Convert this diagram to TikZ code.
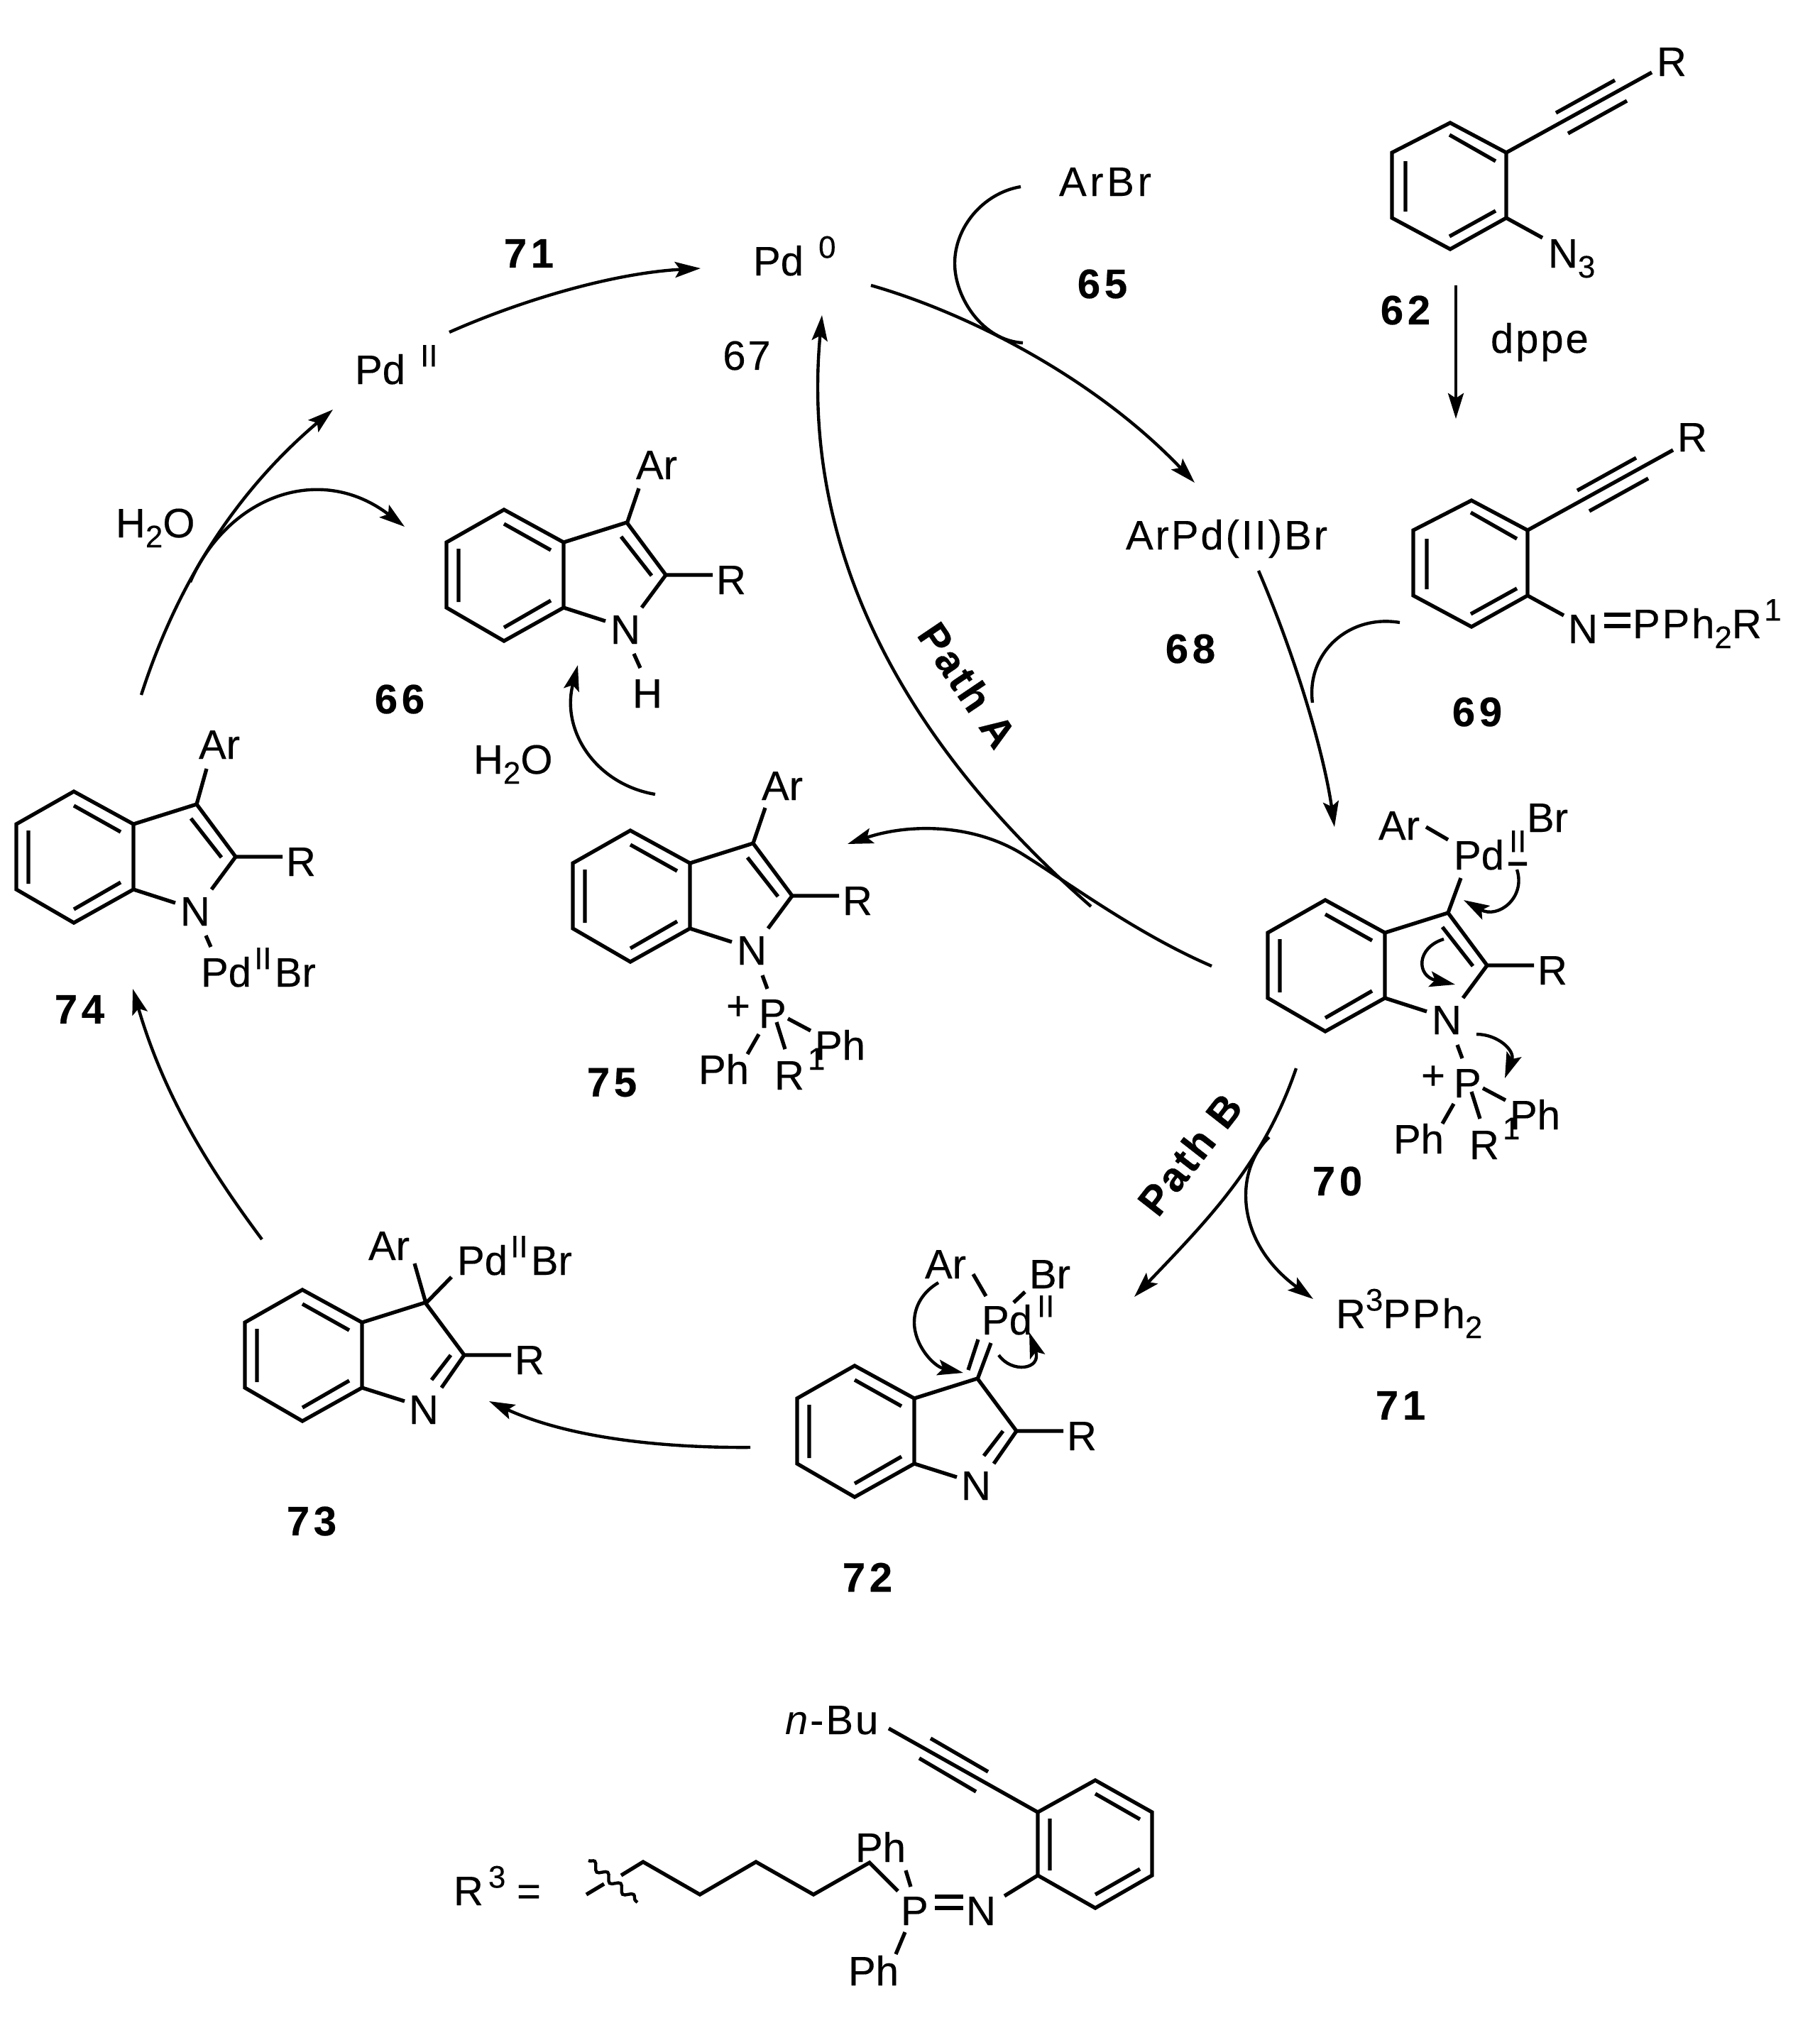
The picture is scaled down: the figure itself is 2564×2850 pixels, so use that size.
\documentclass[tikz,border=0pt]{standalone}
\usepackage{fontspec}
\setmainfont{Liberation Sans}[UprightFeatures={FakeBold=0.25},BoldFeatures={FakeBold=0.4}]
\usetikzlibrary{arrows.meta,decorations.pathmorphing}
\newcommand{\chemfont}{\fontsize{16.5}{18}\selectfont}
\newcommand{\wideon}{\addfontfeature{LetterSpace=5}}
\newcommand{\sps}[1]{\raisebox{7pt}{\fontsize{12.5}{12.5}\selectfont #1}}
\newcommand{\sbs}[1]{\raisebox{-4pt}{\fontsize{12.5}{12.5}\selectfont #1}}
\tikzset{
  bond/.style={line width=1.5pt,line join=miter},
  thin curve/.style={line width=1.25pt},
  arr/.style={line width=1.25pt,-{Stealth[length=.36cm,width=.22cm,inset=.07cm]}},
  txt/.style={inner sep=0pt,outer sep=0pt,anchor=base west,font=\chemfont},
  wtxt/.style={txt,font=\chemfont\wideon},
  lab/.style={inner sep=0pt,outer sep=0pt,anchor=center,font=\chemfont\bfseries\addfontfeature{LetterSpace=10}},
  plain lab/.style={inner sep=0pt,outer sep=0pt,anchor=center,font=\chemfont\wideon},
  pathlab/.style={inner sep=0pt,outer sep=0pt,anchor=center,font=\chemfont\bfseries\addfontfeature{LetterSpace=6}}
}
% benzo ring with C3 and the two bonds to N; origin = C3a
\newcommand{\benzo}[1]{%
  \coordinate (#1a) at (0,0); \coordinate (#1b) at (0,92);
  \coordinate (#1c) at (-84,139); \coordinate (#1d) at (-165,92);
  \coordinate (#1e) at (-165,0); \coordinate (#1f) at (-84,-46);
  \coordinate (#1g) at (89,-28); \coordinate (#1h) at (144,46);
  \draw[bond] (#1a)--(#1b)--(#1c)--(#1d)--(#1e)--(#1f)--cycle;
  \draw[bond] (-84,-26)--(-18,11) (-84,120)--(-18,82) (-148,9)--(-148,84);
  \draw[bond] (#1a)--(#1g)--(#1h)--(210,46);
  \node[txt] (#1R) at (215,73) {R};
  \node[txt] (#1N) at (66,143) {N};
}
\newcommand{\indoleA}[3]{\begin{scope}[shift={(#2,#3)}]
  \benzo{#1}
  \draw[bond] (#1b)--(59,111) (#1h)--(110,92) (81,-8)--(124,47);
\end{scope}}
\newcommand{\indoleB}[3]{\begin{scope}[shift={(#2,#3)}]
  \benzo{#1}
  \draw[bond] (#1b)--(60,111) (#1h)--(112,92) (98,81)--(125,46);
\end{scope}}
\newcommand{\phos}[3]{\begin{scope}[shift={(#2,#3)}]
  \draw[bond] (102,158)--(109,177) (97,241)--(81,269) (122,224)--(134,262) (138,219)--(170,236);
  \node[txt] (#1P) at (97,232) {P};
  \node[txt,anchor=center] (#1plus) at (68,204) {+};
  \node[txt] (#1Pha) at (12,311) {Ph};
  \node[txt] (#1Rb) at (119,319) {R};
  \node[txt] (#1one) at (166,291) {\fontsize{12.5}{12.5}\selectfont 1};
  \node[txt] (#1Phb) at (176,277) {Ph};
\end{scope}}
\begin{document}
\begin{tikzpicture}[x=0.01cm,y=-0.01cm]
\useasboundingbox (0,0) rectangle (2564,2850);
\fill[white] (0,0) rectangle (2564,2850);

%% indoles
\indoleA{u}{794}{764}   % 66
\indoleA{v}{188}{1161}  % 74
\indoleA{w}{972}{1216}  % 75
\indoleA{x}{1951}{1314} % 70
\indoleB{y}{1288}{1970} % 72
\indoleB{z}{510}{1863}  % 73
\phos{w}{972}{1216}
\phos{x}{1951}{1314}

%% extra on 66
\draw[bond] (883,738)--(900,688) (893,921)--(902,941);
\node[txt] (t66Ar) at (896,675) {Ar};
\node[txt] (t66H) at (891,997) {H};
%% extra on 75
\draw[bond] (1061,1188)--(1078,1138);
\node[txt] (t75Ar) at (1073,1127) {Ar};
%% extra on 74
\draw[bond] (277,1133)--(291,1083) (290,1318)--(297,1334);
\node[txt] (t74Ar) at (280,1069) {Ar};
\node[txt] (t74Pd) at (283,1390) {Pd\kern1.2pt\sps{II}\kern1.2pt Br};
%% extra on 70
\draw[bond] (2040,1286)--(2058,1237) (2009,1165)--(2040,1183) (2125,1217)--(2151,1217);
\node[txt] (t70Ar) at (1942,1183) {Ar};
\node[txt] (t70Pd) at (2048,1225) {Pd\kern2pt\sps{II}};
\node[txt] (t70Br) at (2151,1172) {Br};
%% extra on 72
\draw[bond] (1377,1943)--(1396,1892) (1364,1930)--(1378,1887) (1371,1795)--(1389,1826) (1428,1835)--(1444,1820);
\node[txt] (t72Ar) at (1303,1801) {Ar};
\node[txt] (t72Pd) at (1383,1880) {Pd\kern2pt\sps{II}};
\node[txt] (t72Br) at (1450,1815) {Br};
%% extra on 73
\draw[bond] (600,1836)--(584,1780) (600,1836)--(636,1799);
\node[txt] (t73Ar) at (519,1775) {Ar};
\node[txt] (t73Pd) at (644,1796) {Pd\kern1.2pt\sps{II}\kern1.2pt Br};

%% 62
\draw[bond] (2122,215)--(2122,307)--(2043,351)--(1961,307)--(1961,215)--(2043,173)--cycle;
\draw[bond] (2042,190)--(2107,227) (2042,333)--(2107,297) (1980,227)--(1980,298);
\draw[bond] (2122,215)--(2327,102) (2192,159)--(2275,113) (2209,188)--(2292,142) (2122,307)--(2173,335);
\node[txt] (t62R) at (2334,107) {R};
\node[txt] (t62N) at (2181,377) {N\sbs{3}};
%% 69
\begin{scope}[shift={(30,532)}]
\draw[bond] (2122,215)--(2122,307)--(2043,351)--(1961,307)--(1961,215)--(2043,173)--cycle;
\draw[bond] (2042,190)--(2107,227) (2042,333)--(2107,297) (1980,227)--(1980,298);
\draw[bond] (2122,215)--(2327,102) (2192,159)--(2275,113) (2209,188)--(2292,142) (2122,307)--(2173,335);
\node[txt] (t69R) at (2333,104) {R};
\end{scope}
\node[txt] (t69N) at (2209,906) {N};
\draw[bond] (2260,866)--(2297,866) (2260,882)--(2297,882);
\node[wtxt] (t69P) at (2300,899) {PPh\sbs{2}R\kern1pt\sps{1}};

%% free text
\node[txt,font=\chemfont\addfontfeature{LetterSpace=8}] (tArBr) at (1492,276) {ArBr};
\node[txt] (tPd0) at (1061,388) {Pd\kern6pt\sps{0}};
\node[txt] (tPd2) at (500,541) {Pd\kern6pt\sps{II}};
\node[wtxt] (tArPd) at (1586,774) {ArPd(II)Br};
\node[wtxt] (tdppe) at (2100,497) {dppe};
\node[txt] (th2oa) at (163,757) {H\sbs{2}O};
\node[txt] (th2ob) at (667,1090) {H\sbs{2}O};
\node[wtxt] (tR3) at (1882,1871) {R\sps{3}PPh\sbs{2}};

%% compound labels
\node[lab] (l71a) at (745,357) {71};
\node[lab] (l65) at (1553,400) {65};
\node[lab] (l68) at (1677,914) {68};
\node[lab] (l62) at (1980,437) {62};
\node[lab] (l69) at (2081,1003) {69};
\node[lab] (l66) at (563,985) {66};
\node[lab] (l74) at (112,1422) {74};
\node[lab] (l75) at (862,1525) {75};
\node[lab] (l73) at (439,2143) {73};
\node[lab] (l72) at (1222,2222) {72};
\node[lab] (l70) at (1884,1664) {70};
\node[lab] (l71b) at (1973,1980) {71};
\node[plain lab] (l67) at (1052,501) {67};
\node[pathlab,rotate=-56] (lpa) at (1363,965) {Path A};
\node[pathlab,rotate=52] (lpb) at (1676,1626) {Path B};

%% arrow ends
\coordinate (a1s) at (2051,402); \coordinate (a1e) at (2051,590);
\coordinate (a2s) at (1227,402); \coordinate (a2e) at (1683,680);
\coordinate (a3s) at (1438,263); \coordinate (a3m) at (1345,371); \coordinate (a3e) at (1441,483);
\coordinate (a4s) at (1773,804); \coordinate (a4e) at (1880,1165);
\coordinate (a5s) at (1972,877); \coordinate (a5e) at (1849,990);
\coordinate (a6s) at (1707,1361); \coordinate (a6m) at (1440,1203); \coordinate (a6e) at (1194,1189);
\coordinate (a7s) at (1537,1277); \coordinate (a7e) at (1158,444);
\coordinate (a8s) at (1826,1505); \coordinate (a8e) at (1598,1827);
\coordinate (a9s) at (1788,1602); \coordinate (a9e) at (1850,1830);
\coordinate (a10s) at (1057,2039); \coordinate (a10e) at (689,1974);
\coordinate (a11s) at (369,1746); \coordinate (a11e) at (187,1393);
\coordinate (a12s) at (199,979); \coordinate (a12e) at (469,577);
\coordinate (a13s) at (268,820); \coordinate (a13e) at (570,742);
\coordinate (a14s) at (633,468); \coordinate (a14e) at (987,378);
\coordinate (a15s) at (923,1119); \coordinate (a15e) at (814,937);

\draw[arr] (a1s)--(a1e);
\draw[arr] (a2s) .. controls (1360,440) and (1540,530) .. (a2e);
\draw[thin curve] (a3s) .. controls (1385,272) and (1345,320) .. (a3m) .. controls (1345,420) and (1385,480) .. (a3e);
\draw[arr] (a4s) .. controls (1825,925) and (1865,1060) .. (a4e);
\draw[thin curve] (a5s) .. controls (1900,865) and (1840,920) .. (a5e);
\draw[thin curve] (a6s) .. controls (1600,1315) and (1500,1240) .. (a6m);
\draw[arr] (a6m) .. controls (1370,1160) and (1280,1160) .. (a6e);
\draw[arr] (a7s) .. controls (1300,1070) and (1125,800) .. (a7e);
\draw[arr] (a8s) .. controls (1780,1640) and (1700,1720) .. (a8e);
\draw[arr] (a9s) .. controls (1738,1650) and (1740,1750) .. (a9e);
\draw[arr] (a10s) .. controls (930,2040) and (800,2025) .. (a10e);
\draw[arr] (a11s) .. controls (290,1640) and (230,1540) .. (a11e);
\draw[arr] (a12s) .. controls (250,820) and (335,690) .. (a12e);
\draw[arr] (a13s) .. controls (320,700) and (450,650) .. (a13e);
\draw[arr] (a14s) .. controls (730,425) and (860,385) .. (a14e);
\draw[arr] (a15s) .. controls (840,1105) and (790,1030) .. (a15e);

%% electron-pushing arrows on 70
\coordinate (e1s) at (2137,1225); \coordinate (e1e) at (2062,1268);
\coordinate (e2s) at (2034,1323); \coordinate (e2e) at (2050,1387);
\coordinate (e3s) at (2080,1457); \coordinate (e3e) at (2120,1519);
\draw[arr] (e1s) .. controls (2150,1265) and (2110,1295) .. (e1e);
\draw[arr] (e2s) .. controls (1995,1335) and (1995,1375) .. (e2e);
\draw[arr] (e3s) .. controls (2110,1457) and (2135,1480) .. (e3e);
%% electron-pushing arrows on 72
\coordinate (e4s) at (1322,1807); \coordinate (e4m) at (1288,1863); \coordinate (e4e) at (1357,1934);
\coordinate (e5s) at (1407,1909); \coordinate (e5e) at (1450,1877);
\draw[thin curve] (e4s) .. controls (1300,1820) and (1288,1840) .. (e4m);
\draw[arr] (e4m) .. controls (1288,1895) and (1315,1925) .. (e4e);
\draw[arr] (e5s) .. controls (1425,1935) and (1468,1930) .. (e5e);

%% R3 block
\node[txt] (tR3b) at (639,2684) {R\kern2pt\sps{3}};
\node[txt] (teq) at (728,2684) {=};
\draw[bond] (826,2669)--(851,2654);
\coordinate (wa) at (829,2621); \coordinate (wb) at (898,2680);
\draw[line width=1.25pt,decorate,decoration={snake,amplitude=.05cm,segment length=.24cm}] (wa)--(wb);
\draw[bond] (875,2642)--(906,2623)--(986,2669)--(1065,2623)--(1146,2669)--(1225,2624)--(1265,2664);
\draw[bond] (1276,2635)--(1283,2658) (1275,2722)--(1262,2753);
\node[txt] (tPh1) at (1205,2623) {Ph};
\node[txt] (tP) at (1269,2712) {P};
\draw[bond] (1317,2672)--(1357,2672) (1317,2688)--(1357,2688);
\node[txt] (tN) at (1361,2712) {N};
\node[txt] (tPh2) at (1195,2797) {Ph};
\draw[bond] (1415,2671)--(1462,2642);
\draw[bond] (1462,2642)--(1462,2553)--(1543,2508)--(1623,2553)--(1623,2642)--(1543,2688)--cycle;
\draw[bond] (1479,2562)--(1479,2635) (1543,2527)--(1606,2563) (1543,2669)--(1606,2633);
\draw[bond] (1252,2435)--(1462,2553) (1311,2449)--(1392,2496) (1295,2477)--(1375,2524);
\node[wtxt] (tBu) at (1106,2443) {\textit{n}-Bu};
\end{tikzpicture}
\end{document}
